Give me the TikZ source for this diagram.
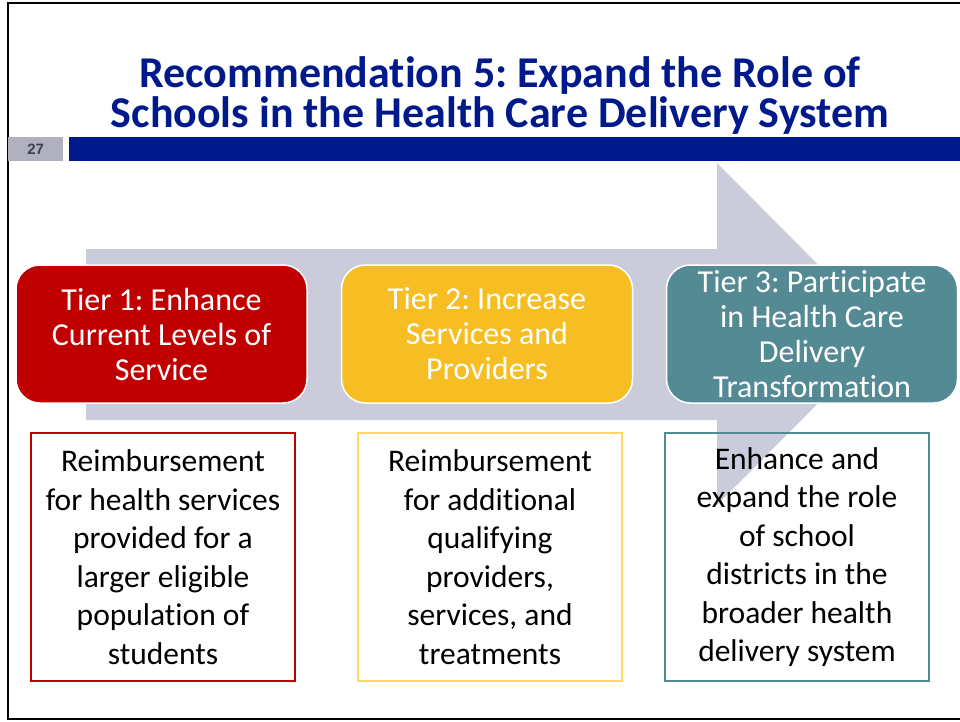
\documentclass[tikz,border=0pt]{standalone}
\usepackage{fontspec}
\setmainfont{Carlito}[Ligatures=NoCommon]
\newfontfamily\arialfont{Liberation Sans}
\definecolor{titleblue}{RGB}{0,26,140}
\definecolor{arrowgray}{RGB}{202,204,220}
\definecolor{numgray}{RGB}{176,176,190}
\definecolor{numtext}{RGB}{64,64,80}
\definecolor{tierred}{RGB}{192,0,0}
\definecolor{tieryellow}{RGB}{246,190,34}
\definecolor{tierteal}{RGB}{84,138,148}
\definecolor{boxyellow}{RGB}{255,217,102}
\tikzset{
  tier/.style={draw=white, line width=1.5pt, rounded corners=24pt, minimum width=291pt, minimum height=138pt, text width=289pt, align=flush center, text=white, font=\frenchspacing\fontsize{32}{35}\selectfont, inner sep=0pt},
  detail/.style={draw, line width=1.5pt, minimum width=264pt, minimum height=248pt, text width=262pt, align=flush center, text=black, font=\frenchspacing\fontsize{31.5}{38.5}\selectfont, inner sep=0pt},
  titletext/.style={text=titleblue, font=\frenchspacing\bfseries\fontsize{44}{40}\selectfont, inner sep=0pt, text height=29pt, text depth=9pt, anchor=base}
}
\begin{document}
\begin{tikzpicture}[x=1pt, y=-1pt]
\useasboundingbox (0,0) rectangle (960,721);
\fill[white] (0,0) rectangle (960,721);
% frame
\draw[black, line width=2pt] (960,3) -- (8,3) -- (8,719) -- (960,719);
% title
\node[titletext] (title1) at (500,87.5) {Recommendation 5: Expand the Role of};
\node[titletext] (title2) at (500,127) {Schools in the Health Care Delivery System};
% slide number and bar
\node[fill=numgray, minimum width=55pt, minimum height=24pt, inner sep=0pt, anchor=north west, text=numtext, font=\arialfont\bfseries\fontsize{15}{15}\selectfont] (num) at (8,137) {27};
\node[fill=titleblue, minimum width=891pt, minimum height=24pt, inner sep=0pt, anchor=north west] (bar) at (69,137) {};
% arrow
\fill[arrowgray] (86,249) -- (717,249) -- (717,163) -- (887,334) -- (717,505) -- (717,420) -- (86,420) -- cycle;
% tiers
\node[tier, fill=tierred] (t1) at (161.5,334) {Tier 1: Enhance\\Current Levels of\\Service};
\node[tier, fill=tieryellow] (t2) at (487,334) {Tier 2: Increase\\Services and\\Providers};
\node[tier, fill=tierteal] (t3) at (812,334) {Tier 3: Participate\\in Health Care\\Delivery\\Transformation};
% details
\node[detail, draw=tierred] (d1) at (163,557) {Reimbursement\\for health services\\provided for a\\larger eligible\\population of\\students};
\node[detail, draw=boxyellow] (d2) at (490,557) {Reimbursement\\for additional\\qualifying\\providers,\\services, and\\treatments};
\node[detail, draw=tierteal] (d3) at (797,557) {Enhance and\\expand the role\\of school\\districts in the\\broader health\\delivery system};
\end{tikzpicture}
\end{document}
